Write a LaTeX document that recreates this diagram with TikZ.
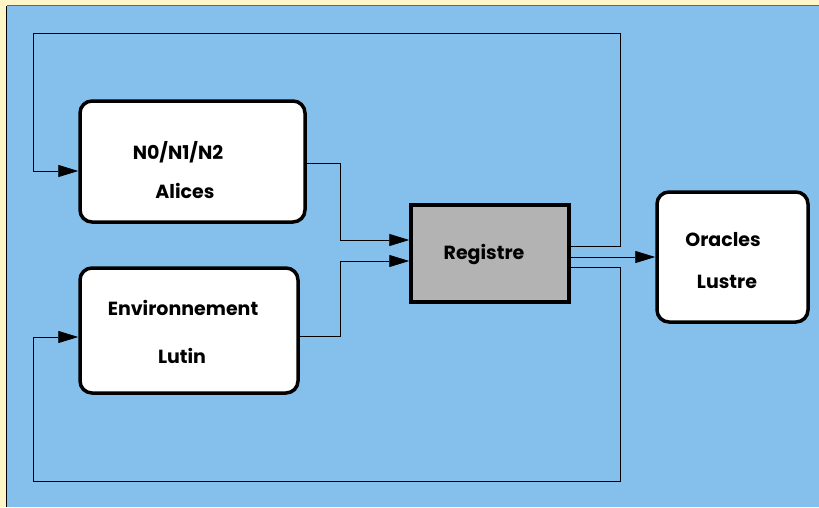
\documentclass[tikz,border=0pt]{standalone}
\usepackage{fontspec}
\setmainfont{Poppins}
\usetikzlibrary{arrows.meta}
\definecolor{paper}{HTML}{FFF5C6}
\definecolor{sky}{HTML}{85C0EC}
\definecolor{regfill}{HTML}{B3B3B3}
\tikzset{
  blockbox/.style={draw=black, line width=3.5pt, rounded corners=12pt, fill=white, inner sep=0pt},
  regbox/.style={draw=black, line width=3.5pt, fill=regfill, inner sep=0pt},
  lbl/.style={font=\fontsize{19}{21}\selectfont\bfseries, inner sep=0pt, anchor=center},
  wire/.style={draw=black, line width=0.9pt},
  arr/.style={wire, -{Triangle[length=20pt,width=12pt]}}
}
\begin{document}
\begin{tikzpicture}[x=1pt,y=-1pt]
  % page and panel
  \fill[paper] (0,0) rectangle (819,507);
  \useasboundingbox (0,0) rectangle (819,507);
  \fill[sky] (7,6) rectangle (819,507);
  \draw[line width=1.5pt, black!60] (7,5.5) -- (819,5.5);
  \draw[line width=1.5pt, black] (6.5,6) -- (6.5,507);

  % blocks
  \node[blockbox, minimum width=225pt, minimum height=121pt] (alice) at (192.5,161.5) {};
  \node[blockbox, minimum width=218pt, minimum height=125pt] (env) at (189,330.5) {};
  \node[regbox, minimum width=158pt, minimum height=97pt] (reg) at (490,253.5) {};
  \node[blockbox, minimum width=151pt, minimum height=130pt] (orc) at (732.5,257) {};

  % labels
  \node[lbl] (t1) at (178,152) {N0/N1/N2};
  \node[lbl] (t2) at (185,191) {Alices};
  \node[lbl] (t3) at (183,308) {Environnement};
  \node[lbl] (t4) at (182,356) {Lutin};
  \node[lbl] (t5) at (484,254) {Registre};
  \node[lbl] (t6) at (723,240) {Oracles};
  \node[lbl] (t7) at (727,282) {Lustre};

  % loop corners
  \coordinate (c1) at (620,33);
  \coordinate (c2) at (33,171);
  \coordinate (c3) at (620,481);
  \coordinate (c4) at (33,337);
  \coordinate (m1) at (340,240);
  \coordinate (m2) at (340,261);

  % inputs to the register
  \draw[arr] (alice.east |- 0,163) -| (m1) -- (reg.west |- m1);
  \draw[arr] (env.east |- 0,336) -| (m2) -- (reg.west |- m2);

  % output to the oracles
  \draw[arr] (reg.east |- 0,257) -- (orc.west |- 0,257);

  % feedback loops
  \draw[wire] (reg.east |- 0,246) -| (c1) -| (c2);
  \draw[arr] (c2) -- (alice.west |- c2);
  \draw[wire] (reg.east |- 0,267) -| (c3) -| (c4);
  \draw[arr] (c4) -- (env.west |- c4);
\end{tikzpicture}
\end{document}
